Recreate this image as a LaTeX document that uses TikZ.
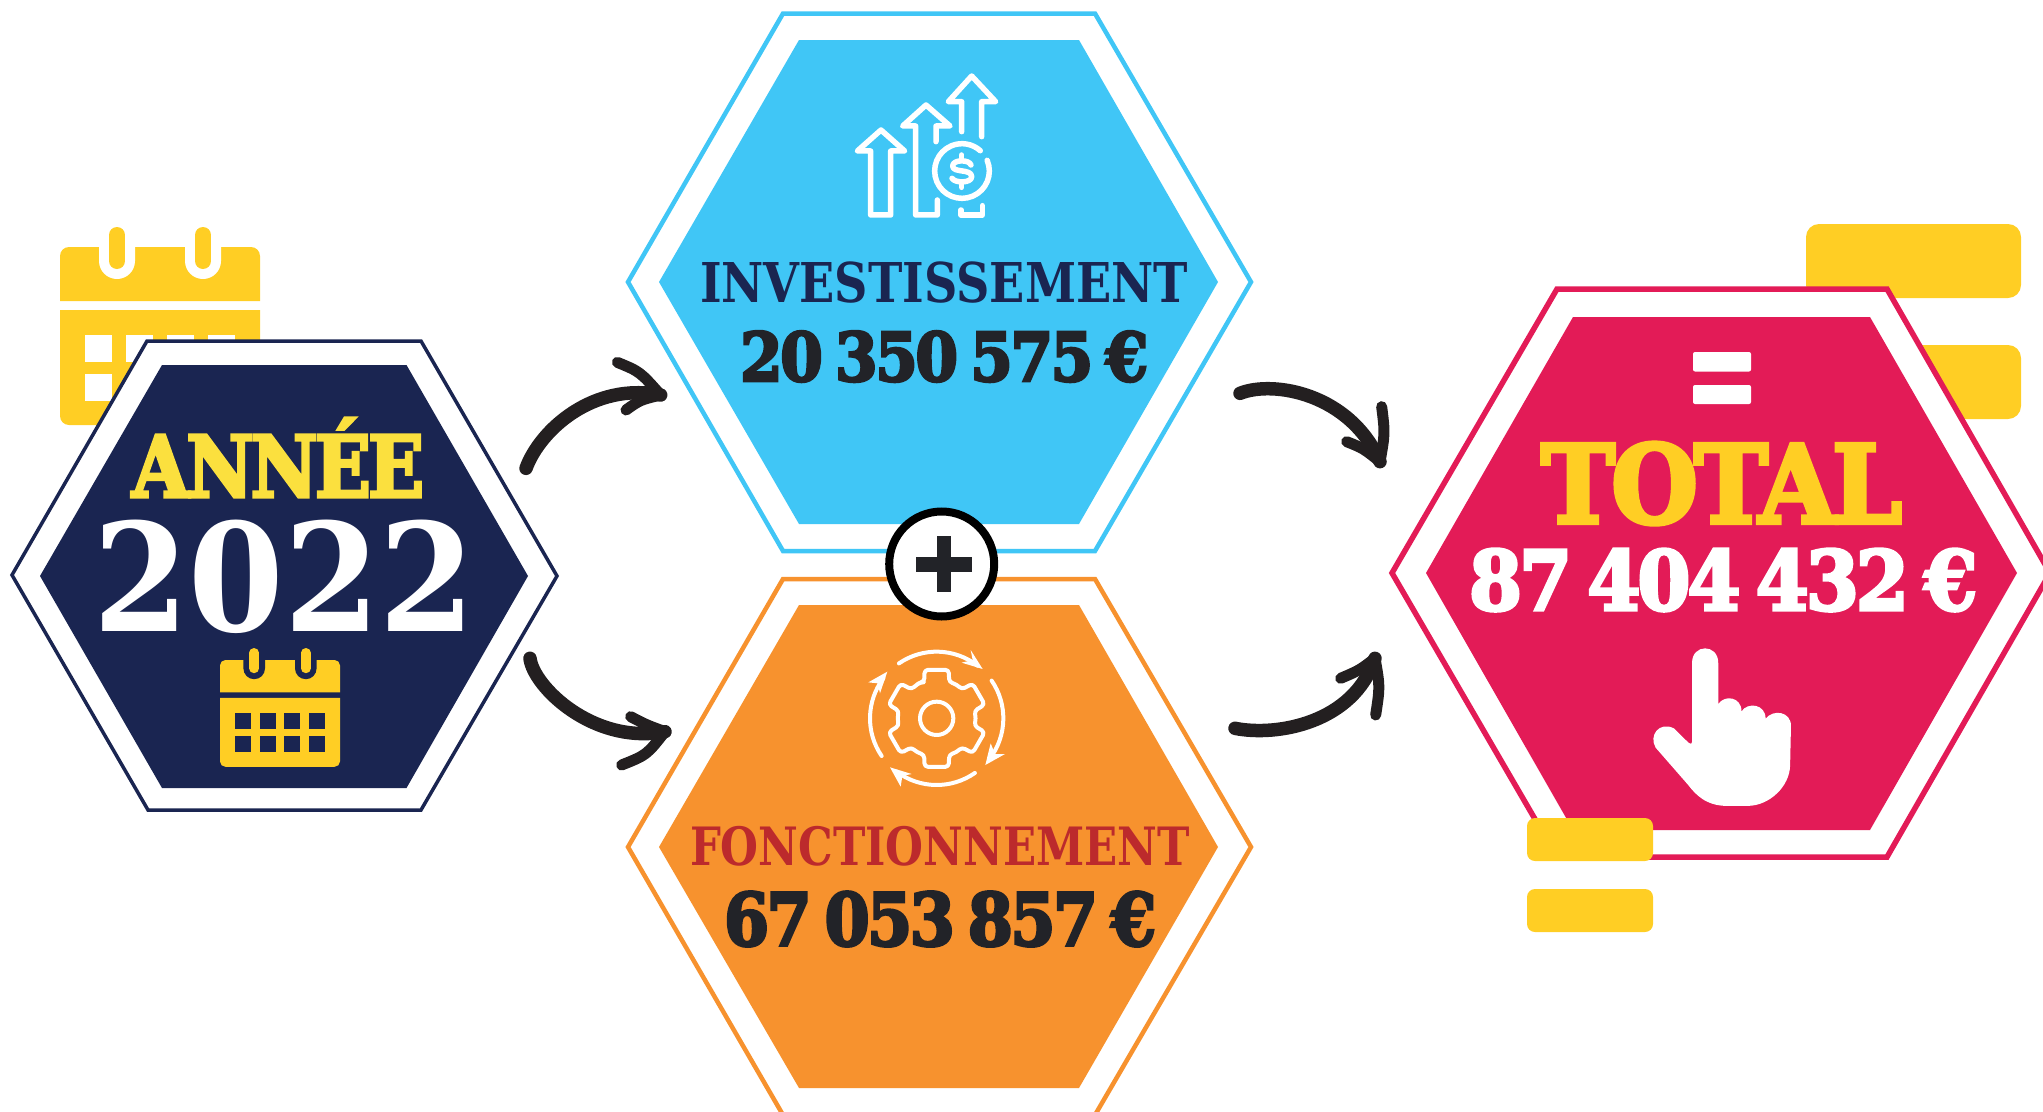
\documentclass[tikz,border=0pt]{standalone}
\usepackage{fontspec}
\usepackage{graphicx}
\newfontfamily\slab{DejaVu Serif}
\newfontfamily\heavy{DejaVu Serif}[LetterSpace=-4,BoldFeatures={FakeBold=4}]
\definecolor{navy}{HTML}{1A2551}
\definecolor{sun}{HTML}{FFCE24}
\definecolor{lemon}{HTML}{FBE03E}
\definecolor{sky}{HTML}{40C6F6}
\definecolor{tang}{HTML}{F7922E}
\definecolor{rose}{HTML}{E31B57}
\definecolor{ink}{HTML}{222328}
\definecolor{brick}{HTML}{BC2A2C}
\definecolor{stroke}{HTML}{231F20}
\newdimen\pxu \pxu=0.02cm
\newcommand{\fittext}[8]{\node[anchor=south west,inner sep=0pt,outer sep=0pt,text=#6] (#1) at (#2,#3) {\resizebox{#4\pxu}{#5\pxu}{#7\spaceskip=0.2em\relax\smash{#8}\vphantom{E}}};}
\newcommand{\calicon}[4]{%
 \pgfmathsetlengthmacro\rA{9*#3*\pxu}\pgfmathsetlengthmacro\rB{18*#3*\pxu}%
 \begin{scope}[shift={(#1,#2)},scale=#3]
 \fill[sun] (0,54) [rounded corners=\rA] -- (0,0) -- (200,0) [sharp corners] -- (200,54) -- cycle;
 \fill[sun] (0,63) -- (200,63) [rounded corners=\rA] -- (200,178) -- (0,178) [sharp corners] -- cycle;
 \foreach \cx in {57,143}{
  \fill[#4,rounded corners=\rB] (\cx-18,-1) -- (\cx-18,32) -- (\cx+18,32) -- (\cx+18,-1);
  \draw[sun,line cap=round,line width=16*#3*\pxu] (\cx,-12) -- (\cx,14);}
 \foreach \wy in {88,127}{\foreach \wx in {25,66,107,148}{
  \fill[#4] (\wx,\wy) rectangle ++(27,27);}}
 \end{scope}}
\tikzset{
 hexline/.style={fill=white,line join=miter},
 handarrow/.style={draw=stroke,line cap=round,line join=round,line width=13.5\pxu},
 handbarb/.style={draw=stroke,line cap=round,line join=round,line width=11\pxu},
 iconline/.style={draw=white,line cap=round,line join=round,line width=5.5\pxu},
 gearline/.style={draw=white,line cap=round,line join=round,line width=4\pxu},
 yellowbar/.style={fill=sun},
}
\begin{document}
\begin{tikzpicture}[x=0.02cm,y=-0.02cm]
\useasboundingbox (0,0) rectangle (2043,1112);
\clip (0,0) rectangle (2043,1112);
% background decorations
\calicon{60}{247}{1}{white}
\fill[yellowbar,rounded corners=13\pxu] (1806,224) rectangle (2021,298);
\fill[yellowbar,rounded corners=13\pxu] (1806,345) rectangle (2021,419);
% hexagons
\draw[hexline,draw=navy,line width=3.5\pxu] (12,575) -- (147,341) -- (421,341) -- (557,576) -- (421,810) -- (148,810) -- cycle;
\fill[navy] (40,576) -- (162,365) -- (406.5,365) -- (528,576) -- (406.5,788) -- (162,788) -- cycle;
\draw[hexline,draw=sky,line width=4.5\pxu] (628,282) -- (783,13.5) -- (1095,13.5) -- (1251,282) -- (1095,551) -- (783,551) -- cycle;
\fill[sky] (659,282) -- (799,40) -- (1079,40) -- (1218,282) -- (1079,524) -- (799,524) -- cycle;
\draw[hexline,draw=tang,line width=4.5\pxu] (628,847) -- (783,579) -- (1095,579) -- (1251,847) -- (1095,1115) -- (783,1115) -- cycle;
\fill[tang] (659,847) -- (799,605) -- (1079,605) -- (1218,847) -- (1079,1088) -- (799,1088) -- cycle;
\draw[hexline,draw=rose,line width=5.5\pxu] (1392,573) -- (1557,289) -- (1887,289) -- (2050,573) -- (1887,857) -- (1557,857) -- cycle;
\fill[rose] (1426,573) -- (1573,317) -- (1870,317) -- (2017,573) -- (1870,830) -- (1573,830) -- cycle;
% texts
\fittext{annee}{132}{497}{292}{62}{lemon}{\heavy\bfseries}{ANNÉE}
\fittext{year}{93}{631}{382}{109.5}{white}{\slab\bfseries}{2022}
\fittext{inv}{700}{302}{488}{40}{navy}{\slab\bfseries}{INVESTISSEMENT}
\fittext{invnum}{740}{381}{408}{49}{ink}{\heavy\bfseries}{20 350 575 €}
\fittext{fon}{690}{865.5}{500}{38.5}{brick}{\slab\bfseries}{FONCTIONNEMENT}
\fittext{fonnum}{724}{945.5}{432}{53}{ink}{\heavy\bfseries}{67 053 857 €}
\fittext{tot}{1541}{523}{361}{79}{sun}{\heavy\bfseries}{TOTAL}
\fittext{totnum}{1469}{610}{508}{60}{white}{\heavy\bfseries}{87 404 432 €}
% small calendar
\calicon{220}{660}{0.6}{navy}
% invest icon
\begin{scope}[shift={(800,40)},scale=1/3]
\draw[iconline] (212,525) -- (212,333) -- (172,333) -- (243,270) -- (314,333) -- (272,333) -- (272,525) -- cycle;
\draw[iconline] (412,480) -- (412,525) -- (347,525) -- (347,258) -- (308,258) -- (378,195) -- (450,258) -- (408,258) -- (408,305);
\draw[iconline] (485,275) -- (485,185) -- (445,185) -- (515,108) -- (587,185) -- (545,185) -- (545,290);
\draw[iconline] (486,393) ++(-23:82) arc[start angle=-23,end angle=312,radius=82];
\draw[iconline] (483,510) -- (483,525) -- (547,525) -- (547,497);
\draw[iconline] (513,375) .. controls (508,358) and (458,358) .. (458,378) .. controls (458,400) and (515,385) .. (515,410) .. controls (515,430) and (465,430) .. (456,415);
\draw[iconline] (485,345) -- (485,355) (485,432) -- (485,442);
\end{scope}
% gear icon
\begin{scope}[shift={(840,630)},scale=1/3]
\draw[gearline] (290,265) circle[radius=50];
\begin{scope}[shift={(290,265)}]
\draw[gearline,rounded corners=3.5\pxu] (-114:118)
 \foreach \a in {-90,-30,30,90,150,210}{
  -- ({\a-19}:115) -- ({\a-14}:150) -- ({\a+14}:150) -- ({\a+19}:115) -- ({\a+30}:118)
 } -- cycle;
\draw[gearline] (-124.5:200) arc[start angle=-124.5,end angle=-52,radius=200];
\draw[gearline] (-34.5:200) arc[start angle=-34.5,end angle=37,radius=200];
\draw[gearline] (55:200) arc[start angle=55,end angle=127,radius=200];
\draw[gearline] (145.6:200) arc[start angle=145.6,end angle=217,radius=200];
\end{scope}
\fill[white] (428,117) -- (392,60) -- (398,90) -- (365,98) -- cycle;
\fill[white] (436,405) -- (495,372) -- (465,372) -- (452,340) -- cycle;
\fill[white] (150,412) -- (182,470) -- (187,438) -- (215,432) -- cycle;
\fill[white] (142,125) -- (85,157) -- (113,160) -- (120,190) -- cycle;
\end{scope}
% equals and hand
\fill[white,rounded corners=2\pxu] (1693,352) rectangle (1751,371.5);
\fill[white,rounded corners=2\pxu] (1693,385) rectangle (1751,404);
\begin{scope}[shift={(1380,200)},xscale=0.4228,yscale=0.4847]
\fill[white] (738,1118) -- (738,955) .. controls (738,915) and (800,915) .. (800,955) -- (800,1040)
 .. controls (815,1020) and (855,1025) .. (855,1055) .. controls (870,1035) and (912,1040) .. (912,1070)
 .. controls (930,1050) and (972,1055) .. (972,1085) -- (970,1165) .. controls (970,1210) and (920,1250) .. (870,1250)
 -- (820,1250) .. controls (770,1250) and (745,1225) .. (730,1208) -- (652,1130)
 .. controls (635,1105) and (660,1075) .. (695,1090) -- (730,1120) .. controls (735,1124) and (738,1122) .. (738,1118) -- cycle;
\end{scope}
% foreground yellow bars
\fill[yellowbar,rounded corners=8\pxu] (1527,818) rectangle (1653,861);
\fill[yellowbar,rounded corners=8\pxu] (1527,889) rectangle (1653,932);
% plus badge
\node[circle,draw=black,fill=white,line width=8\pxu,minimum size=105\pxu,inner sep=0pt] (plus) at (941.7,564) {};
\fill[ink] (937,536) rectangle (951.3,592.3);
\fill[ink] (915.7,557.3) rectangle (972.3,571.7);
% arrows
\begin{scope}[shift={(500,340)},scale=1/3]
\coordinate (a1s) at (78,385); \coordinate (a1e) at (482,165);
\draw[handarrow] (a1s) .. controls (120,270) and (280,125) .. (a1e);
\draw[handbarb] (352,67) .. controls (420,95) .. (a1e);
\draw[handbarb] (378,210) .. controls (420,180) .. (a1e);
\coordinate (a2s) at (90,955); \coordinate (a2e) at (495,1175);
\draw[handarrow] (a2s) .. controls (100,1040) and (280,1215) .. (a2e);
\draw[handbarb] (392,1130) .. controls (440,1155) .. (a2e);
\draw[handbarb] (365,1275) .. controls (440,1245) .. (a2e);
\end{scope}
\begin{scope}[shift={(1210,360)},scale=1/3]
\coordinate (a3s) at (90,100); \coordinate (a3e) at (510,305);
\draw[handarrow] (a3s) .. controls (190,60) and (420,100) .. (a3e);
\draw[handbarb] (515,140) .. controls (525,220) .. (a3e);
\draw[handbarb] (410,245) .. controls (460,265) .. (a3e);
\coordinate (a4s) at (75,1105); \coordinate (a4e) at (495,895);
\draw[handarrow] (a4s) .. controls (200,1130) and (430,1090) .. (a4e);
\draw[handbarb] (392,955) .. controls (450,930) .. (a4e);
\draw[handbarb] (497,1065) .. controls (510,980) .. (a4e);
\end{scope}
\end{tikzpicture}
\end{document}
